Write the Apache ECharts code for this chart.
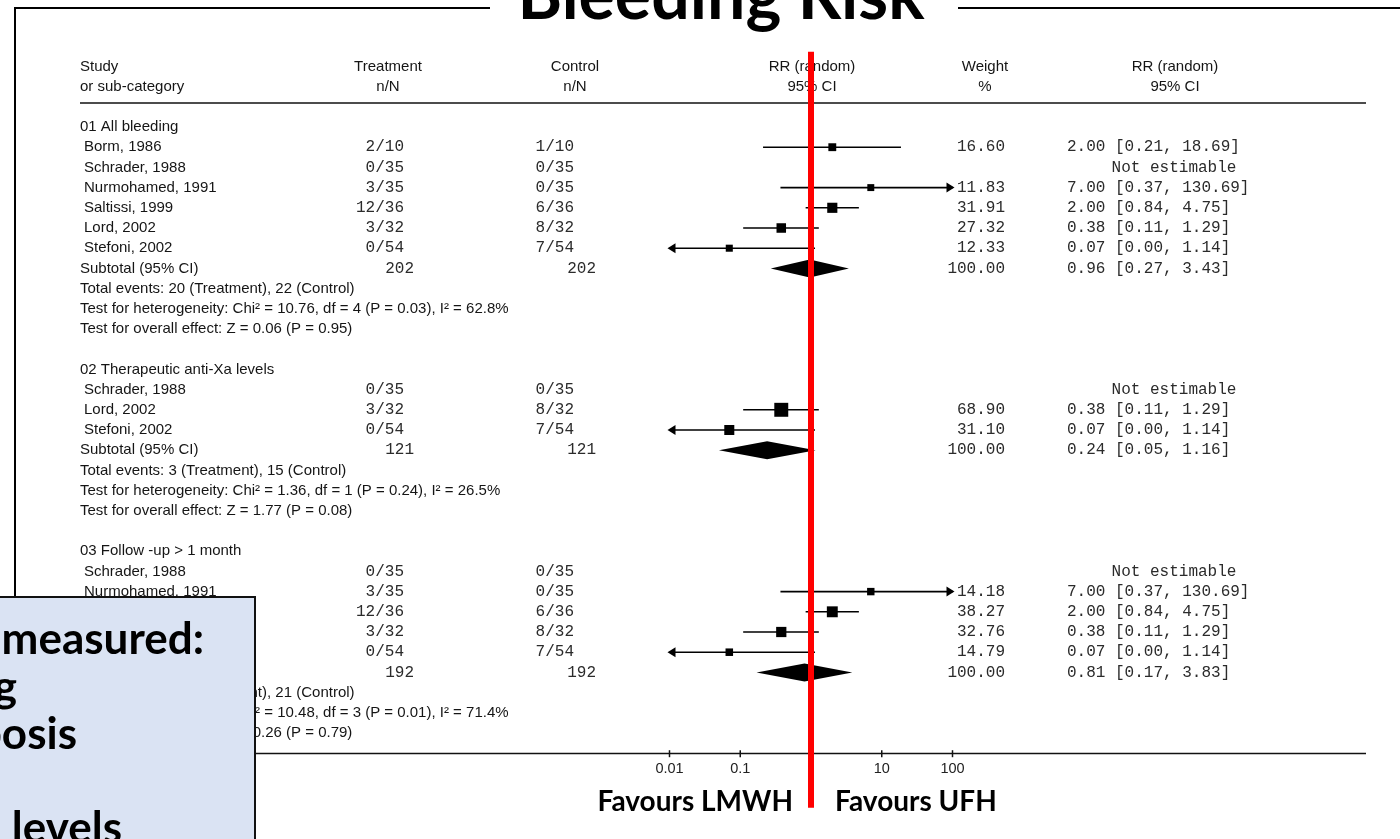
<!DOCTYPE html>
<html><head><meta charset="utf-8">
<script src="https://cdn.jsdelivr.net/npm/echarts@6/dist/echarts.min.js"></script>
<style>html,body{margin:0;padding:0;background:#fff}#c{width:1400px;height:839px}</style>
</head><body><div id="c"></div>
<script>
// ---------- DATA ----------
const rowLabels = [
  '01 All bleeding', 'Borm, 1986', 'Schrader, 1988', 'Nurmohamed, 1991', 'Saltissi, 1999', 'Lord, 2002', 'Stefoni, 2002',
  'Subtotal (95% CI)', 'Total events: 20 (Treatment), 22 (Control)',
  'Test for heterogeneity: Chi² = 10.76, df = 4 (P = 0.03), I² = 62.8%',
  'Test for overall effect: Z = 0.06 (P = 0.95)', '',
  '02 Therapeutic anti-Xa levels', 'Schrader, 1988', 'Lord, 2002', 'Stefoni, 2002',
  'Subtotal (95% CI)', 'Total events: 3 (Treatment), 15 (Control)',
  'Test for heterogeneity: Chi² = 1.36, df = 1 (P = 0.24), I² = 26.5%',
  'Test for overall effect: Z = 1.77 (P = 0.08)', '',
  '03 Follow -up > 1 month', 'Schrader, 1988', 'Nurmohamed, 1991', 'Saltissi, 1999', 'Lord, 2002', 'Stefoni, 2002',
  'Subtotal (95% CI)', 'Total events: 18 (Treatment), 21 (Control)',
  'Test for heterogeneity: Chi² = 10.48, df = 3 (P = 0.01), I² = 71.4%',
  'Test for overall effect: Z = 0.26 (P = 0.79)'
];
// row kind: h = group heading, s = study, t = subtotal, n = note
const rowKinds = ['h','s','s','s','s','s','s','t','n','n','n','',
                  'h','s','s','s','t','n','n','n','',
                  'h','s','s','s','s','s','t','n','n','n'];
const treatmentNN = ['','2/10','0/35','3/35','12/36','3/32','0/54','202','','','','',
                     '','0/35','3/32','0/54','121','','','','',
                     '','0/35','3/35','12/36','3/32','0/54','192','','',''];
const controlNN = ['','1/10','0/35','0/35','6/36','8/32','7/54','202','','','','',
                   '','0/35','8/32','7/54','121','','','','',
                   '','0/35','0/35','6/36','8/32','7/54','192','','',''];
const weightPct = [null,16.60,null,11.83,31.91,27.32,12.33,100.00,null,null,null,null,
                   null,null,68.90,31.10,100.00,null,null,null,null,
                   null,null,14.18,38.27,32.76,14.79,100.00,null,null,null];
const rrEst = [null,2.00,null,7.00,2.00,0.38,0.07,0.96,null,null,null,null,
               null,null,0.38,0.07,0.24,null,null,null,null,
               null,null,7.00,2.00,0.38,0.07,0.81,null,null,null];
const rrLow = [null,0.21,null,0.37,0.84,0.11,0.00,0.27,null,null,null,null,
               null,null,0.11,0.00,0.05,null,null,null,null,
               null,null,0.37,0.84,0.11,0.00,0.17,null,null,null];
const rrHigh = [null,18.69,null,130.69,4.75,1.29,1.14,3.43,null,null,null,null,
                null,null,1.29,1.14,1.16,null,null,null,null,
                null,null,130.69,4.75,1.29,1.14,3.83,null,null,null];
const notEstimableRows = [2, 13, 22];
const axisTickValues = [0.01, 0.1, 10, 100];
const axisTickLabels = ['0.01', '0.1', '10', '100'];
const headerLine1 = ['Study', 'Treatment', 'Control', 'RR (random)', 'Weight', 'RR (random)'];
const headerLine2 = ['or sub-category', 'n/N', 'n/N', '95% CI', '%', '95% CI'];
const titleText = 'Bleeding Risk';
const favoursLeft = 'Favours LMWH';
const favoursRight = 'Favours UFH';
const boxLines = ['Outcomes measured:', 'Bleeding', 'Thrombosis', 'Anti-Xa levels'];

// ---------- helpers ----------
const SANS = '"Liberation Sans", Arial, sans-serif';
const MONO = '"Liberation Mono", "Courier New", monospace';
const BOLD = 'Lato, "Open Sans", sans-serif';
const PLOT_MIN = 0.01, PLOT_MAX = 100;
const AXIS_ROW = 31;
const fmt2 = v => v.toFixed(2);
const ciText = i => notEstimableRows.includes(i) ? 'Not estimable'
  : (rrEst[i] == null ? '' : `${fmt2(rrEst[i])} [${fmt2(rrLow[i])}, ${fmt2(rrHigh[i])}]`);

const textRows = rowLabels.map((_, i) => [1, i]);
const studyRows = [], subtotalRows = [];
rowKinds.forEach((k, i) => {
  if (rrEst[i] == null) return;
  const item = [rrEst[i], i, rrLow[i], rrHigh[i], weightPct[i]];
  if (k === 's') studyRows.push(item); else if (k === 't') subtotalRows.push(item);
});
const headerRows = [[1, -3], [1, -2]];
const tickRows = axisTickValues.map(v => [v, AXIS_ROW]);

function txt(x, y, text, font, align, size, fill) {
  return { type: 'text', x: x, y: y,
    style: { text: text, fontFamily: font, fontSize: size, fill: fill || '#151515',
             align: align || 'left', verticalAlign: 'middle' } };
}
const SANS_SIZE = 15, MONO_SIZE = 16, MONO_FILL = '#2b2b2b';

const chart = echarts.init(document.getElementById('c'), null, { renderer: 'canvas' });
chart.setOption({
  animation: false,
  backgroundColor: '#ffffff',
  grid: { left: 528, width: 566, top: 66.4, height: 686.8 },
  xAxis: {
    type: 'log', logBase: 10, min: 1e-4, max: 1e4,
    axisLine: { show: false }, splitLine: { show: false }, axisTick: { show: false },
    axisLabel: {
      customValues: axisTickValues, margin: 8, color: '#222', fontFamily: SANS, fontSize: 14.5,
      formatter: v => { const k = axisTickValues.findIndex(t => Math.abs(Math.log10(t) - Math.log10(v)) < 1e-6); return k >= 0 ? axisTickLabels[k] : ''; }
    }
  },
  yAxis: { type: 'value', min: -3, max: 31, inverse: true, show: false },
  series: [
    { // table text
      type: 'custom', data: textRows, clip: false, z: 2, silent: true,
      renderItem: (params, api) => {
        const i = params.dataIndex;
        const y = api.coord([1, api.value(1)])[1];
        const k = rowKinds[i];
        const ch = [];
        if (rowLabels[i]) ch.push(txt(k === 's' ? 84 : 80, y, rowLabels[i], SANS, 'left', SANS_SIZE));
        if (treatmentNN[i]) ch.push(txt(k === 't' ? 414 : 404, y, treatmentNN[i], MONO, 'right', MONO_SIZE, MONO_FILL));
        if (controlNN[i]) ch.push(txt(k === 't' ? 596 : 574, y, controlNN[i], MONO, 'right', MONO_SIZE, MONO_FILL));
        if (weightPct[i] != null) ch.push(txt(1005, y, fmt2(weightPct[i]), MONO, 'right', MONO_SIZE, MONO_FILL));
        const c = ciText(i);
        if (c) ch.push(c === 'Not estimable' ? txt(1174, y, c, MONO, 'center', MONO_SIZE, MONO_FILL) : txt(1067, y, c, MONO, 'left', MONO_SIZE, MONO_FILL));
        return { type: 'group', children: ch };
      }
    },
    { // header text
      type: 'custom', data: headerRows, clip: false, z: 2, silent: true,
      renderItem: (params, api) => {
        const y = api.coord([1, api.value(1)])[1];
        const line = params.dataIndex === 0 ? headerLine1 : headerLine2;
        const xs = [80, 388, 575, 812, 985, 1175];
        return { type: 'group', children: line.map((t, j) =>
          txt(xs[j], y, t, SANS, j === 0 ? 'left' : 'center', SANS_SIZE)) };
      }
    },
    { // axis ticks
      type: 'custom', data: tickRows, clip: false, z: 2, silent: true,
      renderItem: (params, api) => {
        const p = api.coord([api.value(0), api.value(1)]);
        return { type: 'line', shape: { x1: p[0], y1: p[1] - 3, x2: p[0], y2: p[1] + 4 }, style: { stroke: '#111', lineWidth: 1.5 } };
      }
    },
    { // study CIs and squares
      type: 'custom', data: studyRows, clip: false, z: 3, silent: true,
      renderItem: (params, api) => {
        const est = api.value(0), row = api.value(1), lo = api.value(2), hi = api.value(3), w = api.value(4);
        const loC = Math.max(lo, PLOT_MIN), hiC = Math.min(hi, PLOT_MAX);
        const pLo = api.coord([loC, row]), pHi = api.coord([hiC, row]), pE = api.coord([est, row]);
        const ch = [{ type: 'line', shape: { x1: pLo[0], y1: pLo[1], x2: pHi[0], y2: pHi[1] },
                      style: { stroke: '#000', lineWidth: 1.6 } }];
        const s = 2 + 1.44 * Math.sqrt(w);
        ch.push({ type: 'rect', shape: { x: pE[0] - s / 2, y: pE[1] - s / 2, width: s, height: s }, style: { fill: '#000' } });
        if (lo < PLOT_MIN) ch.push({ type: 'polygon', shape: { points: [[pLo[0] - 2, pLo[1]], [pLo[0] + 6, pLo[1] - 5], [pLo[0] + 6, pLo[1] + 5]] }, style: { fill: '#000' } });
        if (hi > PLOT_MAX) ch.push({ type: 'polygon', shape: { points: [[pHi[0] + 2, pHi[1]], [pHi[0] - 6, pHi[1] - 5], [pHi[0] - 6, pHi[1] + 5]] }, style: { fill: '#000' } });
        return { type: 'group', children: ch };
      }
    },
    { // subtotal diamonds
      type: 'custom', data: subtotalRows, clip: false, z: 3, silent: true,
      renderItem: (params, api) => {
        const est = api.value(0), row = api.value(1), lo = api.value(2), hi = api.value(3);
        const a = api.coord([lo, row]), b = api.coord([est, row]), c = api.coord([hi, row]);
        const h = 9;
        return { type: 'polygon', shape: { points: [[a[0], a[1]], [b[0], b[1] - h], [c[0], c[1]], [b[0], b[1] + h]] }, style: { fill: '#000' } };
      }
    },
    { // line of no effect (red)
      type: 'line', data: [[1, -3.72], [1, 33.7]], clip: false, z: 6, silent: true,
      symbol: 'none', lineStyle: { color: '#ff0000', width: 6 }
    }
  ],
  graphic: [
    { type: 'line', shape: { x1: 80, y1: 103, x2: 1366, y2: 103 }, style: { stroke: '#111', lineWidth: 1.6 }, z: 1 },
    { type: 'line', shape: { x1: 80, y1: 753.5, x2: 1366, y2: 753.5 }, style: { stroke: '#111', lineWidth: 1.6 }, z: 1 },
    { type: 'line', shape: { x1: 15, y1: 8, x2: 490, y2: 8 }, style: { stroke: '#000', lineWidth: 2 }, z: 1 },
    { type: 'line', shape: { x1: 958, y1: 8, x2: 1400, y2: 8 }, style: { stroke: '#000', lineWidth: 2 }, z: 1 },
    { type: 'line', shape: { x1: 15, y1: 7, x2: 15, y2: 600 }, style: { stroke: '#000', lineWidth: 2 }, z: 1 },
    { type: 'text', x: 721, y: -3, style: { text: titleText, fontFamily: BOLD, fontWeight: 'bold', fontSize: 68, fill: '#000', align: 'center', verticalAlign: 'middle' }, z: 5 },
    { type: 'text', x: 793, y: 802, style: { text: favoursLeft, fontFamily: BOLD, fontWeight: 'bold', fontSize: 28, fill: '#000', align: 'right', verticalAlign: 'middle' }, z: 5 },
    { type: 'text', x: 835, y: 802, style: { text: favoursRight, fontFamily: BOLD, fontWeight: 'bold', fontSize: 28, fill: '#000', align: 'left', verticalAlign: 'middle' }, z: 5 },
    { type: 'rect', shape: { x: -3, y: 597, width: 258, height: 250 }, style: { fill: '#dae3f3', stroke: '#111', lineWidth: 2 }, z: 20 },
    { type: 'text', x: 204, y: 640, style: { text: boxLines[0], fontFamily: BOLD, fontWeight: 'bold', fontSize: 44, fill: '#000', align: 'right', verticalAlign: 'middle' }, z: 21 },
    { type: 'text', x: 17, y: 688, style: { text: boxLines[1], fontFamily: BOLD, fontWeight: 'bold', fontSize: 44, fill: '#000', align: 'right', verticalAlign: 'middle' }, z: 21 },
    { type: 'text', x: 77, y: 735, style: { text: boxLines[2], fontFamily: BOLD, fontWeight: 'bold', fontSize: 44, fill: '#000', align: 'right', verticalAlign: 'middle' }, z: 21 },
    { type: 'text', x: 122, y: 829, style: { text: boxLines[3], fontFamily: BOLD, fontWeight: 'bold', fontSize: 44, fill: '#000', align: 'right', verticalAlign: 'middle' }, z: 21 }
  ]
});
</script></body></html>
